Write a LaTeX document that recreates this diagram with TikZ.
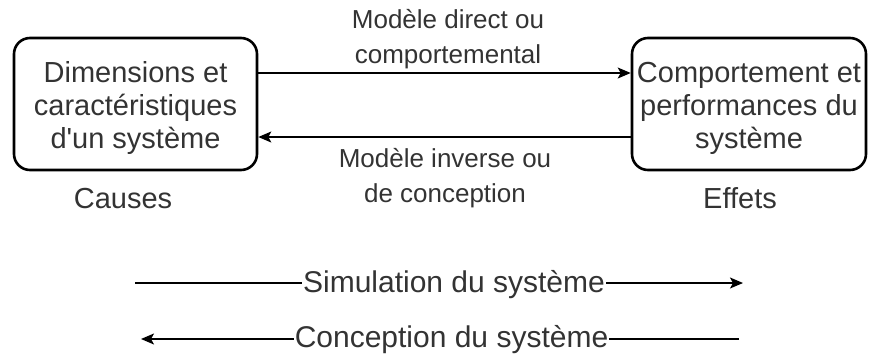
\documentclass[tikz,border=0pt]{standalone}
\usepackage{fontspec}
\setmainfont{Liberation Sans}[Ligatures=TeXOff]
\usetikzlibrary{arrows.meta}
\definecolor{txt}{HTML}{333333}
\tikzset{
  boxnode/.style={draw=black, line width=2.6pt, rounded corners=16pt, inner sep=0pt,
    align=center, text=txt, font=\fontsize{29}{33}\selectfont},
  lbl/.style={inner sep=0pt, align=center, text=txt, font=\fontsize{26}{35}\selectfont},
  side/.style={inner sep=0pt, text=txt, font=\fontsize{29}{33}\selectfont, anchor=base},
  flow/.style={inner sep=1pt, text=txt, font=\fontsize{30}{34}\selectfont, anchor=base},
  arr/.style={line width=1.5pt, -{Stealth[length=13pt,width=11pt,inset=3pt]}},
  ln/.style={line width=1.5pt}
}
\begin{document}
\begin{tikzpicture}[x=1pt,y=-1pt]
\useasboundingbox (0,0) rectangle (870,354);
\node[boxnode, minimum width=243pt, minimum height=132pt] (L) at (135.5,104)
  {\rule{0pt}{29pt}Dimensions et\\caractéristiques\\d'un système};
\node[boxnode, minimum width=234pt, minimum height=132pt] (R) at (749,104)
  {\rule{0pt}{29pt}Comportement et\\performances du\\système};
\draw[arr] ([yshift=31pt]L.east) -- ([yshift=31pt]R.west);
\draw[arr] ([yshift=-33pt]R.west) -- ([yshift=-33pt]L.east);
\node[lbl] (t1) at (448,38.75) {Modèle direct ou\\comportemental};
\node[lbl] (t2) at (445,178.25) {Modèle inverse ou\\de conception};
\node[side] (causes) at (123,208) {Causes};
\node[side] (effets) at (740,208) {Effets};
\node[flow] (sim) at (454,292) {Simulation du système};
\node[flow] (conc) at (451.5,347) {Conception du système};
\coordinate (s1) at (135,283);
\coordinate (s2) at (743,283);
\coordinate (c1) at (739,339);
\coordinate (c2) at (141,339);
\draw[ln] (s1) -- (s1 -| sim.west);
\draw[arr] (s2 -| sim.east) -- (s2);
\draw[ln] (c1) -- (c1 -| conc.east);
\draw[arr] (c2 -| conc.west) -- (c2);
\end{tikzpicture}
\end{document}
